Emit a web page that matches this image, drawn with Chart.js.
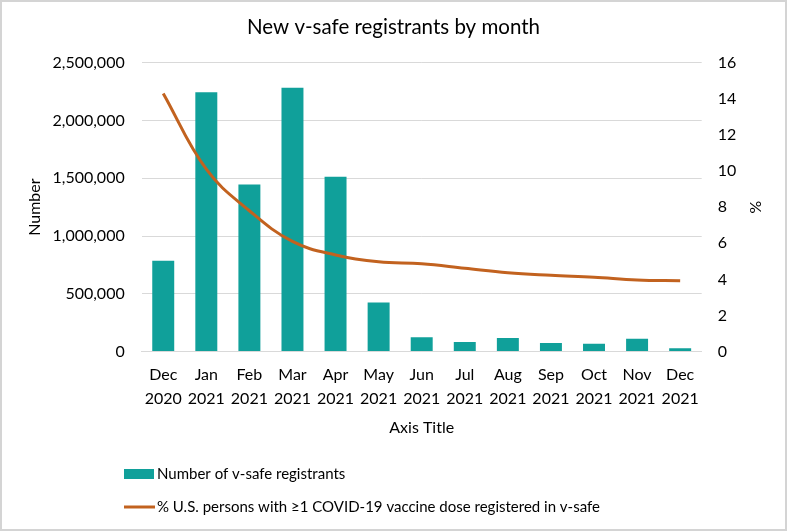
<!DOCTYPE html>
<html>
<head>
<meta charset="utf-8">
<script src="https://cdn.jsdelivr.net/npm/chart.js@4.4.1/dist/chart.umd.min.js"></script>
<style>
  html, body { margin: 0; padding: 0; background: #fff; }
  #wrap { width: 787px; height: 531px; position: relative; }
</style>
</head>
<body>
<div id="wrap"><canvas id="c" width="787" height="531"></canvas></div>
<script>
const months = ['Dec','Jan','Feb','Mar','Apr','May','Jun','Jul','Aug','Sep','Oct','Nov','Dec'];
const years = ['2020','2021','2021','2021','2021','2021','2021','2021','2021','2021','2021','2021','2021'];
const registrants = [787000, 2244000, 1445000, 2284000, 1514000, 424000, 125000, 84000, 118000, 75000, 69000, 112000, 29000];
const percentRegistered = [14.3, 10.1, 7.8, 6.1, 5.35, 4.97, 4.87, 4.62, 4.37, 4.23, 4.12, 3.97, 3.92];
const leftTicks = [0, 500000, 1000000, 1500000, 2000000, 2500000];
const rightTicks = [0, 2, 4, 6, 8, 10, 12, 14, 16];

const titleText = 'New v-safe registrants by month';
const barLabel = 'Number of v-safe registrants';
const lineLabel = '% U.S. persons with \u22651 COVID-19 vaccine dose registered in v-safe';

const FONT = 'Lato, "Open Sans", sans-serif';
const BAR_COLOR = '#10A09A';
const LINE_COLOR = '#C2621F';
const TEXT = '#000000';

const labels = months.map((m, i) => [m, years[i]]);

const frame = {
  id: 'frame',
  beforeDraw(chart) {
    const ctx = chart.ctx;
    ctx.save();
    ctx.fillStyle = '#ffffff';
    ctx.fillRect(0, 0, chart.width, chart.height);
    ctx.restore();
  },
  afterDraw(chart) {
    const ctx = chart.ctx;
    ctx.save();
    ctx.strokeStyle = '#D4D4D4';
    ctx.lineWidth = 2;
    ctx.strokeRect(1, 1, chart.width - 2, chart.height - 2);
    ctx.restore();
  }
};

const customLegend = {
  id: 'customLegend',
  afterDraw(chart) {
    const ctx = chart.ctx;
    ctx.save();
    ctx.font = '15px ' + FONT;
    ctx.textBaseline = 'middle';
    ctx.textAlign = 'left';
    const ds = chart.data.datasets;
    // bar item
    ctx.fillStyle = ds[0].backgroundColor;
    ctx.fillRect(124, 469, 30, 10);
    ctx.fillStyle = TEXT;
    ctx.fillText(ds[0].label, 157, 474);
    // line item
    ctx.strokeStyle = ds[1].borderColor;
    ctx.lineWidth = 3;
    ctx.beginPath();
    ctx.moveTo(124, 507);
    ctx.lineTo(155, 507);
    ctx.stroke();
    ctx.fillText(ds[1].label, 157, 507);
    ctx.restore();
  }
};

new Chart(document.getElementById('c'), {
  data: {
    labels: labels,
    datasets: [
      {
        type: 'bar',
        label: barLabel,
        data: registrants,
        backgroundColor: BAR_COLOR,
        yAxisID: 'y',
        barPercentage: 1.0,
        categoryPercentage: 0.51,
        order: 2
      },
      {
        type: 'line',
        label: lineLabel,
        data: percentRegistered,
        borderColor: LINE_COLOR,
        backgroundColor: LINE_COLOR,
        borderWidth: 3,
        pointRadius: 0,
        tension: 0.4,
        yAxisID: 'y1',
        order: 1
      }
    ]
  },
  options: {
    responsive: false,
    animation: false,
    devicePixelRatio: 1,
    layout: { padding: { left: 0, right: 0, top: 0, bottom: 89.4 } },
    plugins: {
      legend: { display: false },
      tooltip: { enabled: false },
      title: {
        display: true,
        text: titleText,
        color: TEXT,
        font: { family: FONT, size: 20.5, weight: 'normal', lineHeight: 1.2 },
        padding: { top: 15.2, bottom: 22.9 }
      }
    },
    scales: {
      x: {
        grid: { display: false, drawTicks: false },
        border: { display: true, color: '#D9D9D9', width: 1 },
        ticks: {
          color: TEXT,
          font: { family: FONT, size: 16, lineHeight: 1.45 },
          padding: 12,
          maxRotation: 0,
          autoSkip: false
        },
        title: {
          display: true,
          text: 'Axis Title',
          color: TEXT,
          font: { family: FONT, size: 16, lineHeight: 1.2 },
          padding: { top: 4, bottom: 4 }
        },
        afterFit(scale) { scale.height = 90; }
      },
      y: {
        position: 'left',
        min: 0,
        max: 2500000,
        afterBuildTicks(scale) { scale.ticks = leftTicks.map(v => ({ value: v })); },
        grid: { color: '#D9D9D9', drawTicks: false },
        border: { display: false },
        ticks: {
          color: TEXT,
          font: { family: FONT, size: 16 },
          padding: 17,
          callback: (v) => Number(v).toLocaleString('en-US')
        },
        title: {
          display: true,
          text: 'Number',
          color: TEXT,
          font: { family: FONT, size: 16, lineHeight: 1.2 },
          padding: { top: 25.4, bottom: 0 }
        },
        afterFit(scale) { scale.width = 141.7; }
      },
      y1: {
        position: 'right',
        min: 0,
        max: 16,
        afterBuildTicks(scale) { scale.ticks = rightTicks.map(v => ({ value: v })); },
        grid: { display: false, drawTicks: false },
        border: { display: false },
        ticks: {
          color: TEXT,
          font: { family: FONT, size: 16 },
          padding: 16
        },
        title: {
          display: true,
          text: '%',
          color: TEXT,
          font: { family: FONT, size: 16, lineHeight: 1.2 },
          padding: { top: 22.4, bottom: 0 }
        },
        afterFit(scale) { scale.width = 85.3; }
      }
    }
  },
  plugins: [frame, customLegend]
});
</script>
</body>
</html>
